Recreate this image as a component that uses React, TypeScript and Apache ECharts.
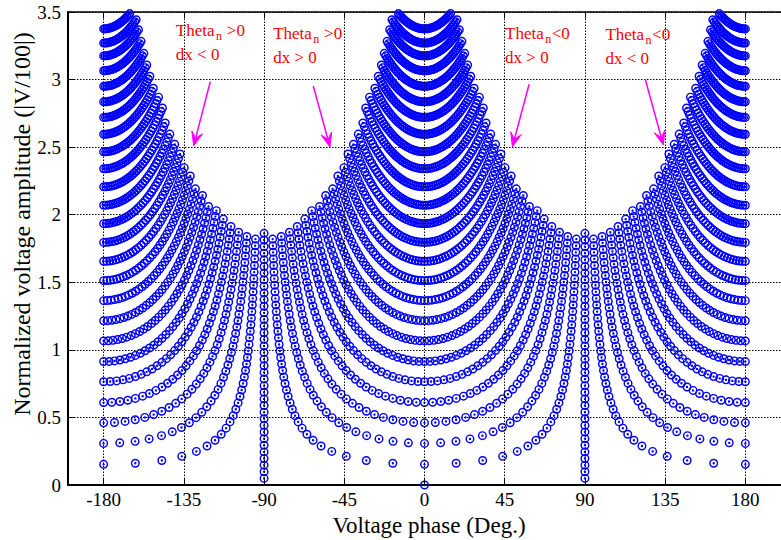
import React, { useEffect, useRef } from "react";
import * as echarts from "echarts";

// ---- data ----
// x-axis tick labels (Voltage phase, deg.)
const phaseTicks = [-180, -135, -90, -45, 0, 45, 90, 135, 180];
// real parts of the voltage: amplitude of each curve at phase 0 / ±180
const realParts = [
  0.153, 0.308, 0.46, 0.61, 0.764, 0.913, 1.066, 1.215, 1.364, 1.512, 1.655, 1.795,
  1.934, 2.07, 2.206, 2.34, 2.465, 2.595, 2.72, 2.835, 2.95, 3.065, 3.175, 3.27, 3.375,
];
// largest imaginary part reached by each curve (read on the envelope)
const imagLimits = [
  1.86, 1.855, 1.85, 1.84, 1.83, 1.815, 1.8, 1.78, 1.76, 1.735, 1.71, 1.68, 1.645,
  1.605, 1.565, 1.52, 1.47, 1.42, 1.37, 1.31, 1.26, 1.2, 1.14, 1.08, 1.02,
];
// imaginary parts, read along the ±90° column
const imagParts = [
  0, 0.049, 0.098, 0.147, 0.196, 0.245, 0.294, 0.343, 0.392, 0.441, 0.49, 0.539, 0.588,
  0.637, 0.686, 0.735, 0.784, 0.833, 0.882, 0.931, 0.98, 1.029, 1.078, 1.127, 1.176,
  1.225, 1.274, 1.323, 1.372, 1.421, 1.47, 1.519, 1.568, 1.617, 1.666, 1.715, 1.764,
  1.813, 1.862,
];
// annotation labels (anchor = left end / baseline of first line, in data units)
const labelAnchors = [
  [-139.5, 3.3225],
  [-84.9, 3.3],
  [45.2, 3.2966],
  [101.5, 3.293],
];
const labelRelations = [" >0", " >0", "<0", "<0"];
const labelDx = ["dx < 0", "dx > 0", "dx > 0", "dx < 0"];
// arrows (from -> to, data units)
const arrowFrom = [
  [-120.2, 2.984],
  [-62.4, 2.952],
  [58.7, 2.965],
  [123.8, 3.004],
];
const arrowTo = [
  [-129.5, 2.509],
  [-53.0, 2.501],
  [49.3, 2.503],
  [134.0, 2.516],
];

const FONT = '"Liberation Serif", "Times New Roman", serif';
const RING =
  "path://M0,5A5,5 0 1,0 10,5A5,5 0 1,0 0,5Z M1.6,5A3.4,3.4 0 1,1 8.4,5A3.4,3.4 0 1,1 1.6,5Z M3.7,5A1.3,1.3 0 1,0 6.3,5A1.3,1.3 0 1,0 3.7,5Z";

function buildPoints(): number[][] {
  const pts: number[][] = [];
  const push = (re: number, im: number) => {
    pts.push([(Math.atan2(im, re) * 180) / Math.PI, Math.hypot(re, im)]);
  };
  imagParts.forEach((im) => {
    if (im === 0) push(0, 0);
    else {
      push(0, im);
      push(0, -im);
    }
  });
  realParts.forEach((re, i) => {
    imagParts.forEach((im) => {
      if (im > imagLimits[i] + 1e-9) return;
      if (im === 0) {
        push(re, 0);
        pts.push([180, re]);
        pts.push([-180, re]);
      } else {
        push(re, im);
        push(re, -im);
        push(-re, im);
        push(-re, -im);
      }
    });
  });
  return pts;
}

export default function App() {
  const ref = useRef<HTMLDivElement>(null);
  useEffect(() => {
    if (!ref.current) return;
    const chart = echarts.init(ref.current, null, { renderer: "svg" });
    const points = buildPoints();
    const option: any = {
      animation: false,
      backgroundColor: "#ffffff",
      grid: { left: 68, top: 12, width: 721, height: 473, show: false },
      xAxis: [
        {
          type: "value",
          min: -200,
          max: 200,
          position: "bottom",
          axisLine: { show: true, onZero: false, lineStyle: { color: "#000", width: 2 } },
          axisTick: {
            show: true,
            inside: true,
            length: 6,
            customValues: phaseTicks,
            lineStyle: { color: "#000", width: 1 },
          },
          axisLabel: {
            customValues: phaseTicks,
            fontFamily: FONT,
            fontSize: 19,
            color: "#000",
            margin: 5,
          },
          splitLine: { show: false },
        },
        {
          type: "value",
          min: -200,
          max: 200,
          position: "top",
          axisLine: { show: true, onZero: false, lineStyle: { color: "#000", width: 1.5 } },
          axisTick: {
            show: true,
            inside: true,
            length: 6,
            customValues: phaseTicks,
            lineStyle: { color: "#000", width: 1 },
          },
          axisLabel: { show: false },
          splitLine: { show: false },
        },
      ],
      yAxis: [
        {
          type: "value",
          min: 0,
          max: 3.5,
          interval: 0.5,
          axisLine: { show: true, onZero: false, lineStyle: { color: "#000", width: 2 } },
          axisTick: { show: true, inside: true, length: 6, lineStyle: { color: "#000", width: 1 } },
          axisLabel: { fontFamily: FONT, fontSize: 19, color: "#000", margin: 7 },
          splitLine: { show: true, lineStyle: { color: "#000", width: 1, type: [1.5, 1.5] } },
        },
      ],
      series: [
        {
          type: "line",
          data: [],
          z: 1,
          silent: true,
          markLine: {
            silent: true,
            symbol: ["none", "none"],
            label: { show: false },
            lineStyle: { color: "#000", width: 1, type: [1.5, 1.5] },
            data: phaseTicks.map((v) => ({ xAxis: v })),
          },
        },
        {
          type: "scatter",
          xAxisIndex: 0,
          yAxisIndex: 0,
          data: points,
          symbol: RING,
          symbolSize: 9,
          itemStyle: { color: "#0000ff", opacity: 1 },
          progressive: 0,
          large: false,
          silent: true,
          z: 3,
        },
      ],
    };
    chart.setOption(option);

    const toPx = (p: number[]) =>
      chart.convertToPixel({ xAxisIndex: 0, yAxisIndex: 0 }, p) as number[];
    const ctx = document.createElement("canvas").getContext("2d")!;
    const measure = (t: string, size: number) => {
      ctx.font = `${size}px "Liberation Serif"`;
      return ctx.measureText(t).width;
    };
    const graphics: any[] = [];
    const RED = "#ff0000";
    const MAG = "#ff00ff";
    const FS = 17;
    const SUB = 12;
    const mid = (baseline: number, size: number) => baseline - 0.3375 * size;
    labelAnchors.forEach((a, i) => {
      const [x0, b0] = toPx(a);
      const wTheta = measure("Theta", FS);
      const xn = x0 + wTheta + 1.5;
      const xr = xn + measure("n", SUB) + 0.5;
      const common = { fontFamily: FONT, fill: RED, verticalAlign: "middle", align: "left" };
      graphics.push({ type: "text", x: x0, y: mid(b0, FS), style: { ...common, text: "Theta", fontSize: FS } });
      graphics.push({ type: "text", x: xn, y: mid(b0 + 4, SUB), style: { ...common, text: "n", fontSize: SUB } });
      graphics.push({ type: "text", x: xr, y: mid(b0, FS), style: { ...common, text: labelRelations[i], fontSize: FS } });
      graphics.push({ type: "text", x: x0, y: mid(b0 + 24, FS), style: { ...common, text: labelDx[i], fontSize: FS } });
    });
    arrowFrom.forEach((f, i) => {
      const [x1, y1] = toPx(f);
      const [x2, y2] = toPx(arrowTo[i]);
      const len = Math.hypot(x2 - x1, y2 - y1);
      const ux = (x2 - x1) / len;
      const uy = (y2 - y1) / len;
      const px = -uy;
      const py = ux;
      const L = 14;
      const W = 5.5;
      const N = 8;
      graphics.push({
        type: "line",
        shape: { x1, y1, x2: x2 - ux * N, y2: y2 - uy * N },
        style: { stroke: MAG, lineWidth: 1.5 },
        z: 100,
      });
      graphics.push({
        type: "polygon",
        shape: {
          points: [
            [x2, y2],
            [x2 - ux * L + px * W, y2 - uy * L + py * W],
            [x2 - ux * N, y2 - uy * N],
            [x2 - ux * L - px * W, y2 - uy * L - py * W],
          ],
        },
        style: { fill: MAG, stroke: MAG, lineWidth: 1 },
        z: 100,
      });
    });
    graphics.push({
      type: "text",
      x: 429,
      y: 525,
      style: { text: "Voltage phase (Deg.)", fontFamily: FONT, fontSize: 23, fill: "#000", align: "center", verticalAlign: "middle" },
    });
    graphics.push({
      type: "text",
      x: 22,
      y: 224,
      rotation: Math.PI / 2,
      style: {
        text: "Normalized voltage amplitude (|V/100|)",
        fontFamily: FONT,
        fontSize: 24,
        fill: "#000",
        align: "center",
        verticalAlign: "middle",
      },
    });
    chart.setOption({ graphic: graphics });
    return () => chart.dispose();
  }, []);
  return (
    <div
      ref={ref}
      style={{ position: "fixed", left: 0, top: 0, width: 781, height: 540, background: "#fff" }}
    />
  );
}
